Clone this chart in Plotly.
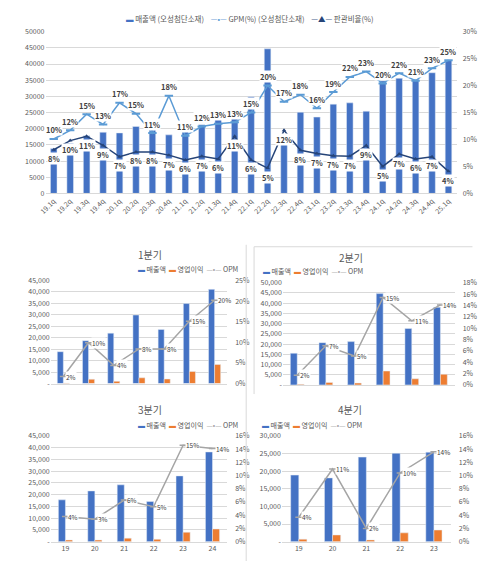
import plotly.graph_objects as go

FONT = "Noto Sans CJK KR"
BLUE = "#4472C4"
ORANGE = "#ED7D31"
GREY = "#A5A5A5"
LIGHT = "#5B9BD5"
NAVY = "#264478"
TXT = "#595959"
GRID = "#D9D9D9"

# 상단: 오성첨단소재 분기 실적
quarters = ["19.1q", "19.2q", "19.3q", "19.4q", "20.1q", "20.2q", "20.3q", "20.4q",
            "21.1q", "21.2q", "21.3q", "21.4q", "22.1q", "22.2q", "22.3q", "22.4q",
            "23.1q", "23.2q", "23.3q", "23.4q", "24.1q", "24.2q", "24.3q", "24.4q", "25.1q"]
sales = [13900, 15500, 17800, 18900, 18700, 20700, 21600, 18100,
         22000, 21200, 24200, 24000, 29900, 44700, 17100, 25100,
         23600, 27600, 28000, 25400, 34800, 35600, 35300, 37300, 41100]
gpm = [10.1, 11.7, 14.7, 12.8, 16.8, 14.8, 11.2, 18.1,
       10.7, 12.4, 12.9, 13.2, 15.0, 20.0, 17.0, 18.3,
       15.8, 18.8, 21.6, 22.6, 20.4, 22.3, 20.9, 23.2, 24.7]
sga = [8.1, 9.8, 10.6, 8.9, 6.8, 7.7, 7.7, 7.1,
       6.2, 6.9, 6.4, 10.6, 6.2, 4.7, 11.7, 8.0,
       7.4, 7.0, 6.9, 8.9, 5.0, 7.3, 6.4, 6.8, 4.1]

# 하단: 분기별 연도 비교
q1_years = ["19", "20", "21", "22", "23", "24", "25"]
q1_sales = [13900, 18700, 22000, 29900, 23600, 34900, 41100]
q1_op = [240, 1860, 970, 2500, 1980, 5270, 8300]
q1_opm = [1.7, 9.9, 4.4, 8.4, 8.4, 15.1, 20.2]

q2_years = ["19", "20", "21", "22", "23", "24"]
q2_sales = [15500, 20700, 21200, 44700, 27600, 38000]
q2_op = [270, 1200, 900, 6800, 3000, 5200]
q2_opm = [1.7, 6.9, 5.1, 15.4, 11.3, 14.1]

q3_years = ["19", "20", "21", "22", "23", "24"]
q3_sales = [17800, 21600, 24200, 17100, 28000, 38200]
q3_op = [700, 700, 1500, 1000, 4000, 5400]
q3_opm = [3.8, 3.4, 6.3, 5.3, 14.6, 14.1]

q4_years = ["19", "20", "21", "22", "23"]
q4_sales = [18900, 18100, 24000, 25100, 25400]
q4_op = [700, 1900, 500, 2500, 3300]
q4_opm = [3.7, 11.0, 2.0, 10.4, 13.6]

# page body has an 8px margin, so the figure is sized/placed to land on the window
W, H, OFF = 492, 557, 8


def px(x):
    return (x - OFF) / W


def py(y):
    return 1 - (y - OFF) / H


def sym(char, color):
    return f"<span style='color:{color}'>{char}</span>"


fig = go.Figure()
annotations = []

# ---- top chart
fig.add_trace(go.Bar(x=quarters, y=sales, name="매출액 (오성첨단소재)", marker_color=BLUE,
                     width=0.4, xaxis="x", yaxis="y"))
fig.add_trace(go.Scatter(x=quarters, y=gpm, name="GPM(%) (오성첨단소재)", mode="lines+markers",
                         line=dict(color=LIGHT, width=1.5),
                         marker=dict(symbol="line-ew-open", size=6, line=dict(color=LIGHT, width=2)),
                         xaxis="x", yaxis="y2"))
fig.add_trace(go.Scatter(x=quarters, y=sga, name="판관비율(%)", mode="lines+markers",
                         line=dict(color=NAVY, width=1.5),
                         marker=dict(symbol="triangle-up", size=4, color=NAVY),
                         xaxis="x", yaxis="y2"))
for j, (g, s) in enumerate(zip(gpm, sga)):
    annotations.append(dict(x=j, y=g, xref="x", yref="y2", text=f"<b>{g:.0f}%</b>", showarrow=False,
                            yshift=9, bgcolor="white", borderpad=0,
                            font=dict(size=7.5, color="#404040", family=FONT)))
    annotations.append(dict(x=j, y=s, xref="x", yref="y2", text=f"<b>{s:.0f}%</b>", showarrow=False,
                            yshift=-9, bgcolor="white", borderpad=0,
                            font=dict(size=7.5, color="#404040", family=FONT)))

# legend for the top chart
annotations.append(dict(
    x=px(245), y=py(13), xref="paper", yref="paper", yanchor="middle", showarrow=False,
    text=(sym("▬", BLUE) + " 매출액 (오성첨단소재)&nbsp;&nbsp;&nbsp;&nbsp;"
          + sym("—•—", LIGHT) + " GPM(%) (오성첨단소재)&nbsp;&nbsp;&nbsp;&nbsp;"
          + sym("—▲—", NAVY) + " 판관비율(%)"),
    font=dict(size=7.5, color=TXT, family=FONT)))

fig.update_layout(
    xaxis=dict(domain=[px(38), px(456)], anchor="y", type="category", range=[-0.5, len(quarters) - 0.5],
               tickangle=-45, tickfont=dict(size=7, color=TXT), showline=True, linecolor=GRID,
               ticks=""),
    yaxis=dict(domain=[py(190.7), py(26)], anchor="x", range=[0, 50000], dtick=5000, tickformat="d",
               gridcolor=GRID, zeroline=False, tickfont=dict(size=7, color=TXT)),
    yaxis2=dict(overlaying="y", side="right", anchor="x", range=[0, 30], dtick=5, ticksuffix="%",
                showgrid=False, zeroline=False, tickfont=dict(size=7, color=TXT), ticklabelstandoff=5),
)

# ---- lower charts: (title, data..., x px span, y px span, left max, right max, right step,
#      show x labels, legend center, title y, legend y)
panels = [
    ("1분기", q1_years, q1_sales, q1_op, q1_opm, (43.3, 222.7), (279.3, 384.3), 45000, 25, 5,
     False, 130, 253, 268),
    ("2분기", q2_years, q2_sales, q2_op, q2_opm, (279.3, 454), (281.7, 385.7), 50000, 18, 2,
     False, 363, 256, 270),
    ("3분기", q3_years, q3_sales, q3_op, q3_opm, (43.3, 222.7), (437.7, 545.3), 45000, 16, 2,
     True, 130, 411, 427),
    ("4분기", q4_years, q4_sales, q4_op, q4_opm, (278.3, 450), (437.7, 545.3), 30000, 16, 2,
     True, 362, 411, 427),
]

for i, (title, yrs, sl, op, opm, xs, ys, ymax, pmax, pstep, showx, cx, ty, ly) in enumerate(panels):
    xn = i + 2
    yl = 2 * i + 3
    yr = 2 * i + 4
    fig.add_trace(go.Bar(x=yrs, y=sl, name="매출액", marker_color=BLUE, width=0.24, offset=-0.24,
                         xaxis=f"x{xn}", yaxis=f"y{yl}"))
    fig.add_trace(go.Bar(x=yrs, y=op, name="영업이익", marker_color=ORANGE, width=0.24, offset=0,
                         xaxis=f"x{xn}", yaxis=f"y{yl}"))
    fig.add_trace(go.Scatter(x=yrs, y=opm, name="OPM", mode="lines+markers",
                             line=dict(color=GREY, width=1.5),
                             marker=dict(symbol="line-ew-open", size=5, line=dict(color=GREY, width=1.5)),
                             xaxis=f"x{xn}", yaxis=f"y{yr}"))
    for j, pv in enumerate(opm):
        annotations.append(dict(x=j, y=pv, xref=f"x{xn}", yref=f"y{yr}", text=f"{pv:.0f}%",
                                showarrow=False, xanchor="left", xshift=2, bgcolor="white",
                                borderpad=0, font=dict(size=6.5, color="#404040", family=FONT)))
    annotations.append(dict(x=px(cx), y=py(ty), xref="paper", yref="paper", yanchor="middle",
                            text=title, showarrow=False, font=dict(size=10, color=TXT, family=FONT)))
    annotations.append(dict(
        x=px(cx), y=py(ly), xref="paper", yref="paper", yanchor="middle", showarrow=False,
        text=(sym("▬", BLUE) + " 매출액&nbsp;&nbsp;" + sym("▬", ORANGE) + " 영업이익&nbsp;&nbsp;"
              + sym("—•—", GREY) + " OPM"),
        font=dict(size=7, color=TXT, family=FONT)))
    ticks = list(range(0, ymax + 1, 5000))
    pticks = list(range(0, pmax + 1, pstep))
    fig.update_layout({
        f"xaxis{xn}": dict(domain=[px(xs[0]), px(xs[1])], anchor=f"y{yl}", type="category",
                           range=[-0.5, len(yrs) - 0.5], showticklabels=showx,
                           tickfont=dict(size=7, color=TXT), showline=True, linecolor=GRID, ticks=""),
        f"yaxis{yl}": dict(domain=[py(ys[1]), py(ys[0])], anchor=f"x{xn}", range=[0, ymax],
                           tickvals=ticks, ticktext=["-" if t == 0 else f"{t:,}" for t in ticks],
                           gridcolor=GRID, zeroline=False, tickfont=dict(size=7, color=TXT)),
        f"yaxis{yr}": dict(overlaying=f"y{yl}", side="right", anchor=f"x{xn}", range=[0, pmax],
                           tickvals=pticks, ticktext=[f"{p}%" for p in pticks],
                           showgrid=False, zeroline=False, tickfont=dict(size=7, color=TXT),
                           ticklabelstandoff=7),
    })

# faint frame lines from the pasted screenshots
shapes = [
    dict(type="line", xref="paper", yref="paper", x0=px(250), x1=px(472), y0=py(245), y1=py(245),
         line=dict(color=GRID, width=1)),
    dict(type="line", xref="paper", yref="paper", x0=px(250), x1=px(250), y0=py(245), y1=py(395),
         line=dict(color=GRID, width=1)),
    dict(type="line", xref="paper", yref="paper", x0=px(242), x1=px(242), y0=py(243), y1=py(565),
         line=dict(color=GRID, width=1)),
]

fig.update_layout(
    width=W, height=H,
    margin=dict(l=0, r=0, t=0, b=0),
    paper_bgcolor="white", plot_bgcolor="white",
    barmode="overlay",
    showlegend=False,
    font=dict(family=FONT, color=TXT),
    annotations=annotations,
    shapes=shapes,
)

fig.write_html("out.html")
